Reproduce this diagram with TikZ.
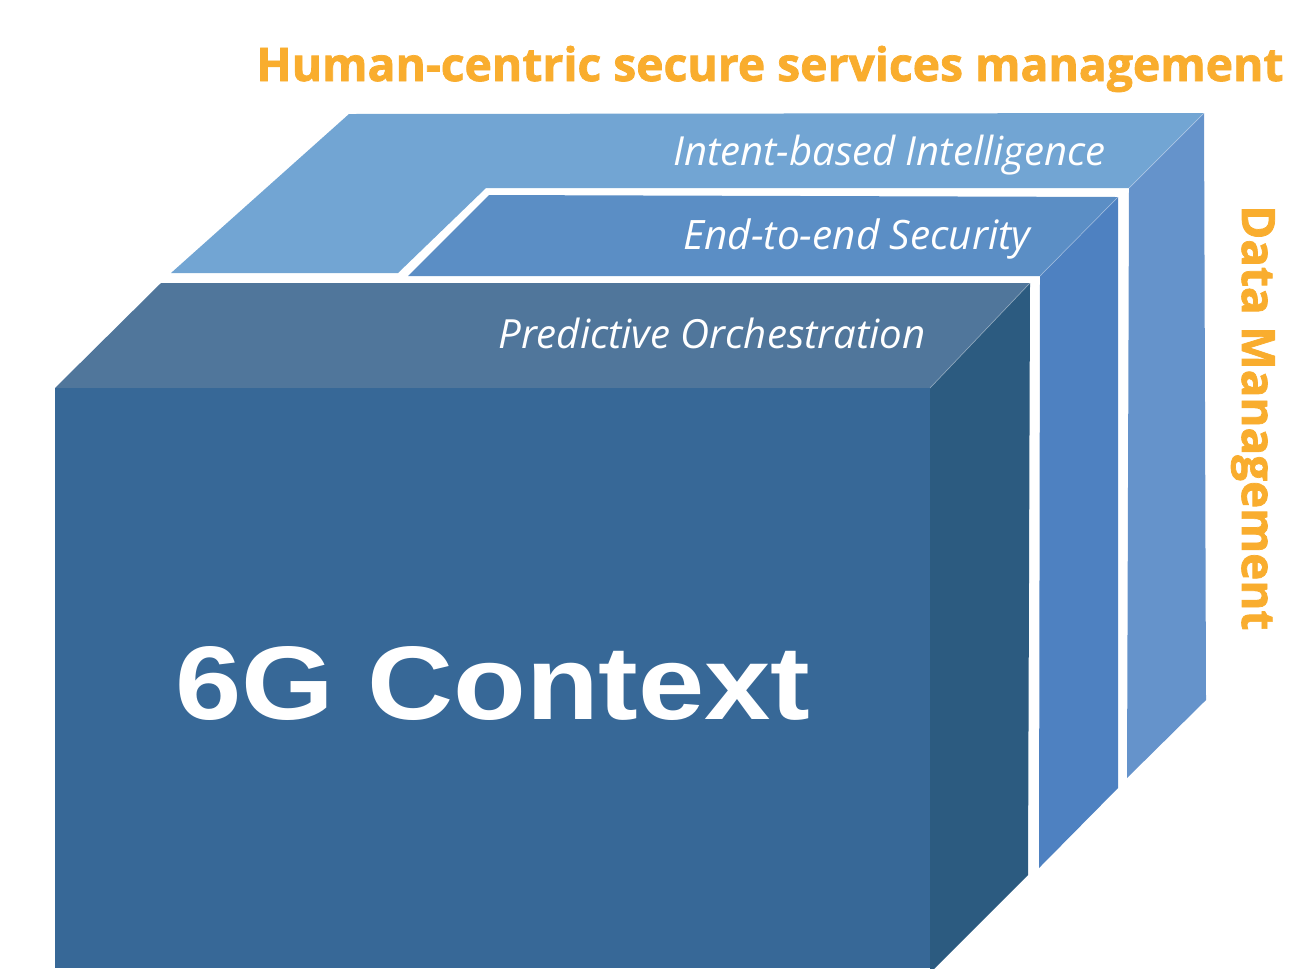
\documentclass[tikz,border=0pt]{standalone}
\usepackage{fontspec}
\setmainfont{Open Sans}
\newfontfamily\headfont{Open Sans}[BoldFeatures={FakeBold=1.6}]
\newfontfamily\techfont{Liberation Sans}
\newlength\pxu
\setlength\pxu{0.02cm}
\definecolor{outerTop}{HTML}{72A5D3}
\definecolor{outerSide}{HTML}{6593CB}
\definecolor{midTop}{HTML}{5B8EC5}
\definecolor{midSide}{HTML}{4E81C1}
\definecolor{innTop}{HTML}{50769B}
\definecolor{innFront}{HTML}{376897}
\definecolor{innSide}{HTML}{2C5B80}
\definecolor{accent}{HTML}{F9AD2E}
\tikzset{
  layerlabel/.style={anchor=base west, inner sep=0pt, text=white, font=\itshape},
  headlabel/.style={anchor=base west, inner sep=0pt, text=accent, font=\headfont\bfseries},
  edgeline/.style={white, opacity=0.35, line width=0.4pt},
}
\begin{document}
\begin{tikzpicture}[x=0.02cm,y=-0.02cm]
\useasboundingbox (0,0) rectangle (1291,968);
% outer box (Intent-based Intelligence)
\fill[outerTop] (171,273) -- (349,114) -- (1204,113) -- (1129,188) -- (486,188) -- (398,273) -- cycle;
\fill[outerSide] (1129,188) -- (1204,113) -- (1206,700) -- (1127,778) -- cycle;
\draw[edgeline] (1129,188) -- (1204,113);
% middle box (End-to-end Security)
\fill[midTop] (408,276) -- (489,195) -- (1118,197) -- (1040,276) -- cycle;
\fill[midSide] (1040,276) -- (1118,197) -- (1118,788) -- (1039,868) -- cycle;
\draw[edgeline] (1040,276) -- (1118,197);
% inner cube (6G Context)
\fill[innTop] (55,388) -- (161,283) -- (1030,283) -- (930,388) -- cycle;
\fill[innSide] (930,388) -- (1030,283) -- (1028,875) -- (930,973) -- (930,388) -- cycle;
\fill[innFront] (55,388) -- (930,388) -- (930,968) -- (55,968) -- cycle;
\draw[edgeline] (930,388) -- (1030,283);
% labels
\node[headlabel] (title) at (256,81) {\resizebox{1027\pxu}{!}{Human-centric secure services management}};
\node[headlabel, rotate=-90] (data) at (1242,205) {\resizebox{425\pxu}{!}{Data Management}};
\node[layerlabel] (intent) at (673,165) {\resizebox{432\pxu}{!}{Intent-based Intelligence}};
\node[layerlabel] (e2e) at (683,249) {\resizebox{347\pxu}{!}{End-to-end Security}};
\node[layerlabel] (pred) at (498,348) {\resizebox{427\pxu}{!}{Predictive Orchestration}};
\node[anchor=base west, inner sep=0pt, text=white] (ctx) at (175,719) {\resizebox{635\pxu}{73\pxu}{\techfont\bfseries 6G Context}};
\end{tikzpicture}
\end{document}
